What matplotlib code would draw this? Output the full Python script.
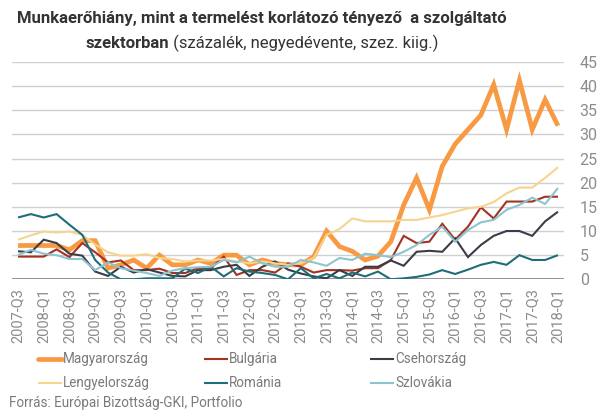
import matplotlib
matplotlib.use("Agg")
import matplotlib.pyplot as plt
from matplotlib.lines import Line2D

# ---------------- data ----------------
quarters = []
for y in range(2007, 2019):
    for q in range(1, 5):
        if (y == 2007 and q < 3) or (y == 2018 and q > 1):
            continue
        quarters.append(f"{y}-Q{q}")

magyarorszag = [7, 7, 7, 7, 6.1, 8, 8, 2.3, 3, 4, 2.3, 5, 3, 3, 4, 3.3, 5, 5, 3, 4, 3.3, 3,
                3, 4.7, 10, 6.8, 5.8, 4, 4.8, 7.8, 15.4, 21, 14.4, 23.4, 28, 31, 34, 40.3, 31, 41.2, 31, 37.2, 31.8]
bulgaria = [4.7, 4.7, 4.7, 6.2, 4.6, 7.5, 5.6, 3.5, 3.9, 1.9, 1.9, 2.2, 1.3, 1.3, 2.3, 2.3, 4.7, 0.9, 1.9, 1.9, 1.4, 3.3,
            2.6, 1.4, 1.9, 1.9, 1.8, 2.3, 2.3, 4, 9, 7.5, 7.8, 11.5, 8.2, 10.9, 14.9, 12.6, 16.1, 16.1, 16.1, 17.1, 17.1]
csehorszag = [5.8, 5.6, 8.2, 7.5, 5.3, 4.9, 1.6, 0.7, 2.6, 1.4, 2.1, 1.4, 0.7, 0.6, 1.9, 1.9, 2.6, 3, 0.7, 2.6, 3.7, 2.0,
              1.2, 0.6, 0.2, 1.9, 0.7, 2.6, 2.6, 3.9, 2.8, 5.7, 5.9, 5.7, 8.5, 4.6, 7.1, 9, 10, 10, 9, 12, 14]
lengyelorszag = [8.2, 9.1, 9.9, 9.7, 9.9, 9.2, 7.2, 5.6, 4.9, 4.9, 5.2, 4.4, 4.2, 3.7, 3.9, 3.9, 4.2, 3.7, 3.3, 3.7, 3.3, 3.0,
                 3.3, 4.4, 9.2, 10.4, 12.6, 12, 12, 12, 12.3, 12.3, 12.8, 13.3, 14, 14.7, 15, 16, 17.8, 19, 19, 21, 23.2]
romania = [12.8, 13.5, 12.8, 13.5, 11.3, 9.2, 4, 1.4, 0, 0, 0.2, 0.2, 0.2, 2.2, 1.3, 2.6, 0.6, 2.3, 1.6, 1.3, 0.9, 0,
           2.3, 0.2, 1.1, 0.2, 1.4, 0.6, 1.6, 0, 0.2, 0.5, 1, 1.9, 1.1, 2, 3, 3.6, 3, 5, 4, 4, 5]
szlovakia = [5, 6.1, 5.3, 5, 4.2, 4.2, 1.9, 3.5, 2.3, 1.8, 1.3, 0.7, 1.8, 2.3, 2.5, 2.6, 4, 3.5, 4.7, 3.3, 2.6, 2.6,
             4, 3.5, 2.8, 4.4, 4, 5.3, 5, 4.6, 5.7, 7.1, 9.2, 10.9, 7.8, 10.2, 11.8, 12.3, 14.4, 15.4, 16.9, 15.6, 18.9]

series_names = ["Magyarország", "Bulgária", "Csehország", "Lengyelország", "Románia", "Szlovákia"]
series_values = [magyarorszag, bulgaria, csehorszag, lengyelorszag, romania, szlovakia]
series_colors = ["#f79a43", "#a33222", "#3a3d48", "#f6d48e", "#1f6d79", "#8cc4d0"]
series_widths = [3.4, 1.5, 1.5, 1.5, 1.5, 1.5]

yticks = [0, 5, 10, 15, 20, 25, 30, 35, 40, 45]

title_line1 = "Munkaerőhiány, mint a termelést korlátozó tényező  a szolgáltató"
title_line2_bold = "szektorban"
title_line2_normal = " (százalék, negyedévente, szez. kiig.)"
source = "Forrás: Európai Bizottság-GKI, Portfolio"

# ---------------- fonts ----------------
plt.rcParams["font.family"] = ["Roboto", "DejaVu Sans"]

GRAY = "#8c8c8c"
TXT = "#333333"
LEGTXT = "#7a7a7a"

W, H = 605, 416
fig = plt.figure(figsize=(W / 100, H / 100), dpi=100)
fig.canvas.draw()
R = fig.canvas.get_renderer()

def fx(px):
    return px / W

def fy(py):
    return 1 - py / H

def fit_size(s, target, weight="normal", base=12.0):
    t = fig.text(0, 0, s, fontsize=base, fontweight=weight)
    w = t.get_window_extent(R).width
    t.remove()
    return base * target / w

x0, x1 = 11.6, 564.4
ytop, ybot = 62, 279.3
ax = fig.add_axes([fx(x0), fy(ybot), fx(x1) - fx(x0), (ybot - ytop) / H])

xs = list(range(len(quarters)))
for name, vals, c, lw in zip(series_names, series_values, series_colors, series_widths):
    ax.plot(xs, vals, color=c, lw=lw, solid_joinstyle="miter", solid_capstyle="butt", label=name, zorder=3)

ax.set_xlim(-0.5, len(quarters) - 0.5)
ax.set_ylim(0, 45)
ax.set_yticks(yticks)
ax.yaxis.tick_right()
ax.yaxis.grid(True, color="#d0d0d0", lw=1.0)
ax.set_axisbelow(True)
for s in ax.spines.values():
    s.set_visible(False)
ax.axhline(0, color="#8a8a8a", lw=1.3, zorder=2)
ax.tick_params(axis="y", length=0, pad=11, labelsize=11.5, labelcolor=GRAY)
xt_size = fit_size("2007-Q3", 55)
ax.set_xticks(xs[::2])
ax.set_xticklabels(quarters[::2], rotation=90, fontsize=xt_size, color=GRAY)
ax.tick_params(axis="x", length=0, pad=6)

# ---------------- title ----------------
t1_size = fit_size(title_line1, 490, "bold")
fig.text(fx(262), fy(19), title_line1, ha="center", va="center", fontsize=t1_size, fontweight="bold", color=TXT)
tb = fig.text(0, 0, title_line2_bold, fontsize=t1_size, fontweight="bold", color=TXT, va="center")
tn = fig.text(0, 0, title_line2_normal, fontsize=t1_size, color=TXT, va="center")
wb = tb.get_window_extent(R).width
wn = tn.get_window_extent(R).width
start = 262 - (wb + wn) / 2
tb.set_position((fx(start), fy(43)))
tn.set_position((fx(start + wb), fy(43)))

# ---------------- legend ----------------
leg_size = fit_size("Magyarország", 86)
leg_cols = [38, 204, 370]
leg_rows = [359, 383]
order = [(0, 0), (0, 1), (0, 2), (1, 0), (1, 1), (1, 2)]
for (row, col), name, c, lw in zip(order, series_names, series_colors, series_widths):
    xl = leg_cols[col]
    yl = leg_rows[row]
    fig.add_artist(Line2D([fx(xl), fx(xl + 24)], [fy(yl), fy(yl)], color=c, lw=lw,
                          transform=fig.transFigure, solid_capstyle="round" if lw > 2 else "butt"))
    fig.text(fx(xl + 25), fy(yl), name, ha="left", va="center", fontsize=leg_size, color=LEGTXT)

src_size = fit_size(source, 234)
fig.text(fx(9), fy(403), source, ha="left", va="center", fontsize=src_size, color=LEGTXT)

fig.savefig("out.png", dpi=100)
